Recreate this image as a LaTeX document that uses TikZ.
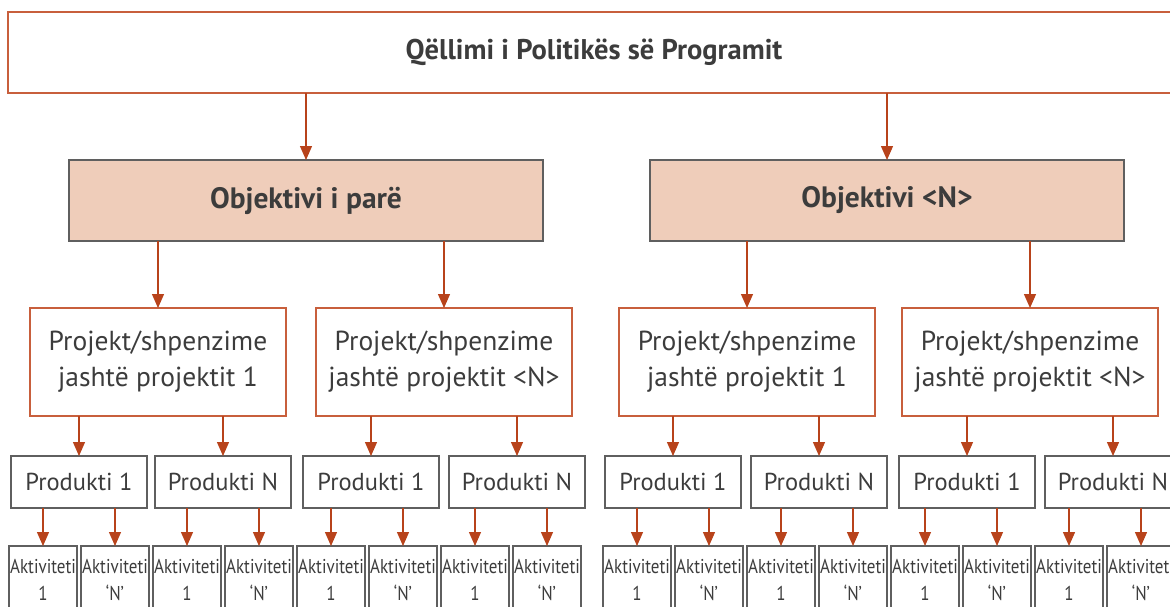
\documentclass[tikz,border=0pt]{standalone}
\usepackage{fontspec}
\setmainfont{PT Sans}
\newfontfamily\narrowfont[FakeStretch=0.85]{PT Sans}
\usetikzlibrary{arrows.meta}
\usetikzlibrary{positioning}
\definecolor{rust}{RGB}{200,95,60}
\definecolor{arrowred}{RGB}{184,67,27}
\definecolor{peach}{RGB}{239,205,186}
\definecolor{boxgray}{RGB}{95,95,95}
\definecolor{textgray}{RGB}{60,60,60}
\tikzset{
    goalbox/.style={
           rectangle,
           draw=rust, line width=1.4pt,
           outer sep=0pt,
           text=textgray,
           font=\fontsize{28.5}{32}\selectfont\bfseries,
           },
}
\tikzset{
    objbox/.style={
           rectangle,
           draw=boxgray, fill=peach, line width=1.4pt,
           minimum width=474pt, minimum height=81pt,
           outer sep=0pt,
           text=textgray,
           font=\fontsize{29.5}{34}\selectfont\bfseries,
           },
}
\tikzset{
    projbox/.style={
           rectangle,
           draw=rust, line width=1.4pt,
           minimum width=256pt, minimum height=108pt,
           outer sep=0pt,
           align=center,
           text=textgray,
           font=\fontsize{27.5}{36}\selectfont,
           },
}
\tikzset{
    prodbox/.style={
           rectangle,
           draw=boxgray, line width=1.4pt,
           minimum width=136pt, minimum height=52pt,
           outer sep=0pt,
           text=textgray,
           font=\fontsize{24.5}{30}\selectfont,
           },
}
\tikzset{
    actbox/.style={
           rectangle,
           draw=boxgray, line width=1.4pt,
           text width=68pt, minimum height=68pt,
           inner sep=0pt, outer sep=0pt,
           align=center,
           text=textgray,
           font=\narrowfont\fontsize{20}{27}\selectfont,
           },
}
\tikzset{
    link/.style={
           draw=arrowred, line width=1.3pt,
           -{Triangle[length=14pt,width=12pt]},
           },
}
\begin{document}
\begin{tikzpicture}[x=1pt,y=-1pt]
\useasboundingbox (0,0) rectangle (1170,606);
\clip (0,0) rectangle (1170,606);
% goal
\node[goalbox,minimum width=1172pt,minimum height=81pt](goal) at (594,52.5){Qëllimi i Politikës së Programit};
% objectives
\node[objbox](obj1) at (306,200.5){Objektivi i parë};
\node[objbox,right=107pt of obj1](objN){Objektivi <N>};
% projects
\node[projbox](p1) at (158,362){Projekt/shpenzime\\jashtë projektit 1};
\node[projbox,right=30pt of p1](p2){Projekt/shpenzime\\jashtë projektit <N>};
\node[projbox,right=47pt of p2](p3){Projekt/shpenzime\\jashtë projektit 1};
\node[projbox,right=27pt of p3](p4){Projekt/shpenzime\\jashtë projektit <N>};
% products
\node[prodbox](q1) at (79,482){Produkti 1};
\node[prodbox,right=8pt of q1](q2){Produkti N};
\node[prodbox,right=12pt of q2](q3){Produkti 1};
\node[prodbox,right=10pt of q3](q4){Produkti N};
\node[prodbox,right=20pt of q4](q5){Produkti 1};
\node[prodbox,right=10pt of q5](q6){Produkti N};
\node[prodbox,right=12pt of q6](q7){Produkti 1};
\node[prodbox,right=10pt of q7](q8){Produkti N};
% activities
\node[actbox](a1) at (43,580){Aktiviteti\\1};
\node[actbox,right=4pt of a1](a2){Aktiviteti\\‘N’};
\node[actbox,right=4pt of a2](a3){Aktiviteti\\1};
\node[actbox,right=4pt of a3](a4){Aktiviteti\\‘N’};
\node[actbox,right=4pt of a4](a5){Aktiviteti\\1};
\node[actbox,right=4pt of a5](a6){Aktiviteti\\‘N’};
\node[actbox,right=4pt of a6](a7){Aktiviteti\\1};
\node[actbox,right=4pt of a7](a8){Aktiviteti\\‘N’};
\node[actbox,right=22pt of a8](a9){Aktiviteti\\1};
\node[actbox,right=4pt of a9](a10){Aktiviteti\\‘N’};
\node[actbox,right=4pt of a10](a11){Aktiviteti\\1};
\node[actbox,right=4pt of a11](a12){Aktiviteti\\‘N’};
\node[actbox,right=4pt of a12](a13){Aktiviteti\\1};
\node[actbox,right=4pt of a13](a14){Aktiviteti\\‘N’};
\node[actbox,right=4pt of a14](a15){Aktiviteti\\1};
\node[actbox,right=4pt of a15](a16){Aktiviteti\\‘N’};
% arrows
\draw[link] (goal.south -| obj1) -- (obj1.north);
\draw[link] (goal.south -| objN) -- (objN.north);
\draw[link] (obj1.south -| p1) -- (p1.north);
\draw[link] (obj1.south -| p2) -- (p2.north);
\draw[link] (objN.south -| p3) -- (p3.north);
\draw[link] (objN.south -| p4) -- (p4.north);
\draw[link] (p1.south -| q1) -- (q1.north);
\draw[link] (p1.south -| q2) -- (q2.north);
\draw[link] (p2.south -| q3) -- (q3.north);
\draw[link] (p2.south -| q4) -- (q4.north);
\draw[link] (p3.south -| q5) -- (q5.north);
\draw[link] (p3.south -| q6) -- (q6.north);
\draw[link] (p4.south -| q7) -- (q7.north);
\draw[link] (p4.south -| q8) -- (q8.north);
\draw[link] (q1.south -| a1) -- (a1.north);
\draw[link] (q1.south -| a2) -- (a2.north);
\draw[link] (q2.south -| a3) -- (a3.north);
\draw[link] (q2.south -| a4) -- (a4.north);
\draw[link] (q3.south -| a5) -- (a5.north);
\draw[link] (q3.south -| a6) -- (a6.north);
\draw[link] (q4.south -| a7) -- (a7.north);
\draw[link] (q4.south -| a8) -- (a8.north);
\draw[link] (q5.south -| a9) -- (a9.north);
\draw[link] (q5.south -| a10) -- (a10.north);
\draw[link] (q6.south -| a11) -- (a11.north);
\draw[link] (q6.south -| a12) -- (a12.north);
\draw[link] (q7.south -| a13) -- (a13.north);
\draw[link] (q7.south -| a14) -- (a14.north);
\draw[link] (q8.south -| a15) -- (a15.north);
\draw[link] (q8.south -| a16) -- (a16.north);
\end{tikzpicture}
\end{document}
